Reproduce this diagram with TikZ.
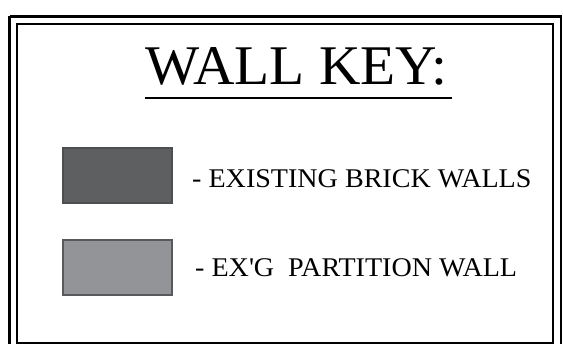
\documentclass[tikz,border=0pt]{standalone}
\usepackage{fontspec}
\setmainfont{Liberation Serif}
\newfontfamily\keyfont[FakeStretch=1.04]{Liberation Serif}
\newfontfamily\titlefont[FakeStretch=1.025]{Liberation Serif}
\usetikzlibrary{positioning}
\definecolor{brickfill}{HTML}{5E5F61}
\definecolor{brickline}{HTML}{4D4E50}
\definecolor{partfill}{HTML}{939497}
\definecolor{partline}{HTML}{58595B}
\tikzset{
  keybox/.style={draw, line width=2pt, minimum width=109pt, minimum height=55pt, inner sep=0pt},
  keytext/.style={anchor=base west, inner sep=0pt, font=\keyfont\fontsize{27}{30}\selectfont}
}
\begin{document}
\begin{tikzpicture}[x=1pt,y=-1pt]
    \useasboundingbox (0,0) rectangle (563,344);

    % double frame
    \draw[line width=2.4pt] (9.5,16.5) -- (561,16.5) -- (561,352) (9.5,352) -- (9.5,16.5);
    \draw[line width=2pt] (16.5,24) rectangle (553,343);

    % title
    \node[anchor=base, inner sep=0pt, font=\titlefont\fontsize{56}{60}\selectfont] (title) at (296.5,85) {WALL KEY:};
    \coordinate (ulA) at (145,98.5);
    \coordinate (ulB) at (452,98.5);
    \draw[line width=2pt] (ulA) -- (ulB);

    % key entries
    \node[keybox, fill=brickfill, draw=brickline] (brick) at (117.5,175.5) {};
    \node[keybox, fill=partfill, draw=partline] (part) at (117.5,267.5) {};

    \node[keytext] (bricktxt) at (192,188) {- EXISTING BRICK WALLS};
    \node[keytext] (parttxt) at (195,277) {- EX\textquotesingle G\ \ PARTITION WALL};
\end{tikzpicture}
\end{document}
